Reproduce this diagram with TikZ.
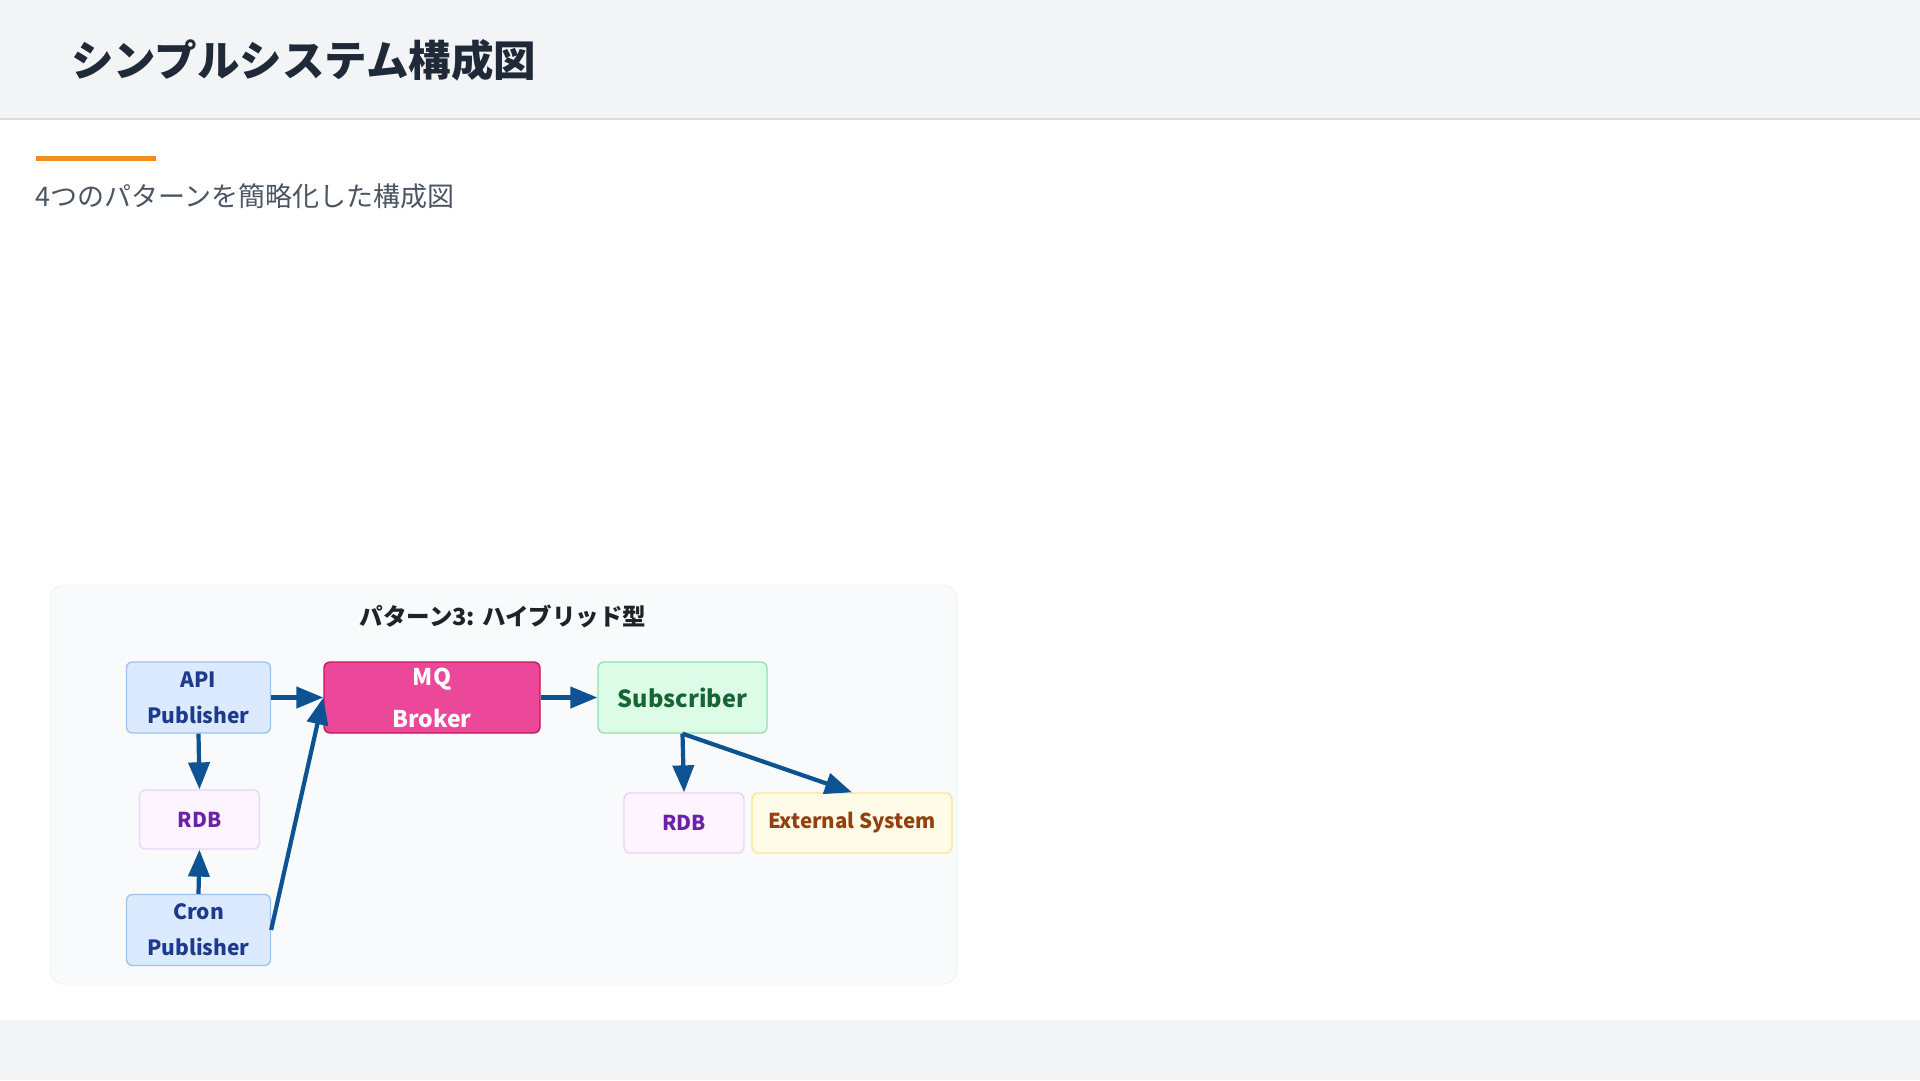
\documentclass[tikz,border=0pt]{standalone}
\usepackage{fontspec}
\setmainfont{Noto Sans CJK JP}
\usetikzlibrary{arrows.meta}
\definecolor{hdrbg}{HTML}{F2F4F6}
\definecolor{hdrline}{HTML}{D9DCE0}
\definecolor{titlec}{HTML}{1F2937}
\definecolor{subc}{HTML}{4B5563}
\definecolor{accent}{HTML}{F28C1C}
\definecolor{panelbg}{HTML}{F8FAFC}
\definecolor{panelln}{HTML}{EEF1F4}
\definecolor{ptitle}{HTML}{1F2328}
\definecolor{pubfill}{HTML}{DBEAFE}
\definecolor{pubdraw}{HTML}{9CC3EC}
\definecolor{pubtext}{HTML}{1E3A8A}
\definecolor{dbfill}{HTML}{FDF4FF}
\definecolor{dbdraw}{HTML}{E9D5F5}
\definecolor{dbtext}{HTML}{6B21A8}
\definecolor{mqfill}{HTML}{EC4899}
\definecolor{mqdraw}{HTML}{BE185D}
\definecolor{subfill}{HTML}{DCFCE7}
\definecolor{subdraw}{HTML}{90E2B0}
\definecolor{subtext}{HTML}{166534}
\definecolor{extfill}{HTML}{FEFCE8}
\definecolor{extdraw}{HTML}{FDE68A}
\definecolor{exttext}{HTML}{92400E}
\definecolor{arrowc}{HTML}{0D5394}
\tikzset{
  basebox/.style={rounded corners=6pt, line width=1.3pt, inner sep=0pt, align=center},
  pubbox/.style={basebox, fill=pubfill, draw=pubdraw, text=pubtext,
    minimum width=144pt, minimum height=71pt,
    font=\fontsize{21}{36}\selectfont\bfseries},
  dbbox/.style={basebox, fill=dbfill, draw=dbdraw, text=dbtext,
    minimum width=120pt, minimum height=59pt,
    font=\fontsize{20.5}{30}\selectfont\bfseries},
  mqbox/.style={basebox, fill=mqfill, draw=mqdraw, text=white,
    minimum width=216pt, minimum height=71pt,
    font=\fontsize{23}{42}\selectfont\bfseries},
  subbox/.style={basebox, fill=subfill, draw=subdraw, text=subtext,
    minimum width=169pt, minimum height=71pt,
    font=\fontsize{23.5}{34}\selectfont\bfseries},
  extbox/.style={basebox, fill=extfill, draw=extdraw, text=exttext,
    minimum width=200pt, minimum height=60pt,
    font=\fontsize{20.5}{30}\selectfont\bfseries},
  flow/.style={draw=arrowc, line width=4.2pt, -{Triangle[length=27pt,width=21pt]}}
}
\begin{document}
\begin{tikzpicture}[x=1pt,y=-1pt]
\useasboundingbox (0,0) rectangle (1920,1080);
\fill[white] (0,0) rectangle (1920,1080);
% header and footer
\fill[hdrbg] (0,0) rectangle (1920,119);
\draw[hdrline, line width=1.2pt] (0,119) -- (1920,119);
\fill[hdrbg] (0,1020) rectangle (1920,1080);
\node[anchor=west, inner sep=0pt, text=titlec, font=\fontsize{42.5}{50}\selectfont\bfseries] (title) at (71,60) {シンプルシステム構成図};
\fill[accent] (35.5,155.5) rectangle (155.5,160.5);
\node[anchor=west, inner sep=0pt, text=subc, font=\fontsize{27}{32}\selectfont] (subtitle) at (35.5,196) {4つのパターンを簡略化した構成図};
% panel
\draw[fill=panelbg, draw=panelln, line width=0.8pt, rounded corners=14pt] (50,585) rectangle (957,984);
\node[inner sep=0pt, text=ptitle, font=\fontsize{23.5}{28}\selectfont\bfseries] (ptitle) at (503,616) {パターン3: ハイブリッド型};
% boxes
\node[pubbox] (api) at (198.5,697.5) {API\\Publisher};
\node[dbbox] (rdb1) at (199.5,819.5) {RDB};
\node[pubbox] (cron) at (198.5,930) {Cron\\Publisher};
\node[mqbox] (mq) at (432,697.5) {MQ\\Broker};
\node[subbox] (sub) at (682.5,697.5) {Subscriber};
\node[dbbox, minimum height=60pt] (rdb2) at (684,823) {RDB};
\node[extbox] (ext) at (852,823) {External System};
% connectors
\draw[flow] (api.east) -- (mq.west);
\draw[flow] (cron.east) -- (mq.west);
\draw[flow] (api.south) -- (rdb1.north);
\draw[flow] (cron.north) -- (rdb1.south);
\draw[flow] (mq.east) -- (sub.west);
\draw[flow] (sub.south) -- (rdb2.north);
\draw[flow] (sub.south) -- (ext.north);
\end{tikzpicture}
\end{document}
